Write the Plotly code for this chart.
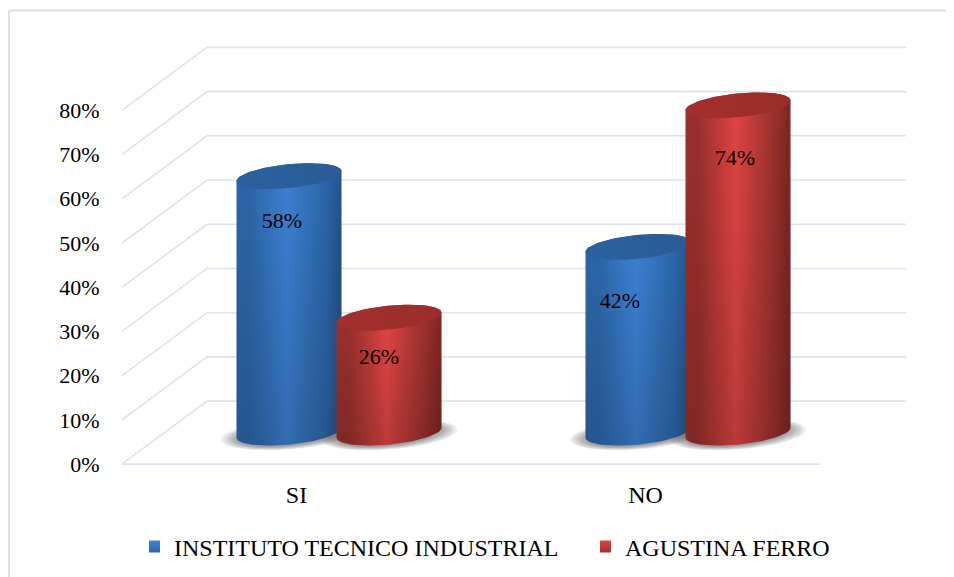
import numpy as np
import plotly.graph_objects as go

categories = ["SI", "NO"]
series_names = ["INSTITUTO TECNICO INDUSTRIAL", "AGUSTINA FERRO"]
instituto = [58, 42]
agustina = [26, 74]
y_ticks = [0, 10, 20, 30, 40, 50, 60, 70, 80]

# The page body adds an 8px margin, so the figure is 8px smaller and all px are shifted.
PAGE = 8
PX_Y = 354 / 80          # px per percent
PX_X = 349.0             # px per category
LEFT, BOTTOM = 122 - PAGE, 464 - PAGE
W, H = 954 - PAGE, 577 - PAGE
RIGHT = 906 - PAGE
Y_MAX = 95
Y_MIN = -(H - BOTTOM) / PX_Y     # plot area reaches the figure bottom, legends sit inside it
X_MIN = -0.5
X_MAX = X_MIN + (RIGHT - LEFT) / PX_X

DX, DY = 85 / PX_X, 63 / PX_Y       # wall depth
FRONT_END = X_MIN + (820 - PAGE - LEFT) / PX_X
A, B, K = 52.5 / PX_X, 12 / PX_Y, 5 / PX_Y
BAR_OFF = 50 / PX_X
FONT = "Liberation Serif"

BLUE = dict(edge_l="#2c66a8", peak="#3c80d2", edge_r="#21518a", top_l="#2a629f", top_r="#2a5c96", swatch=("#3f83d4", "#2c67ad"))
RED = dict(edge_l="#98302d", peak="#e04444", edge_r="#7d2422", top_l="#a3302e", top_r="#9a2d2a", swatch=("#dc4341", "#a63230"))

fig = go.Figure()


def add_poly(x, y, **kw):
    fig.add_trace(go.Scatter(x=x, y=y, mode="lines", fill="toself", line=dict(width=0),
                             showlegend=False, hoverinfo="skip", **kw))


# walls and floor
gx, gy = [], []
for v in y_ticks:
    gx += [X_MIN, X_MIN + DX, X_MAX, None]
    gy += [v, v + DY, v + DY, None]
gx += [X_MIN, FRONT_END]
gy += [0, 0]
fig.add_trace(go.Scatter(x=gx, y=gy, mode="lines", line=dict(color="#dde3ef", width=1.6),
                         showlegend=False, hoverinfo="skip"))

bars = []
for i in range(len(categories)):
    centre = i + DX / 2
    bars.append((centre - BAR_OFF, instituto[i], BLUE))
    bars.append((centre + BAR_OFF, agustina[i], RED))

# floor shadows
base = DY / 2
for cx, _, _ in bars:
    t = np.linspace(0, 2 * np.pi, 60)
    for s in np.linspace(1.0, 0.72, 8):
        add_poly(cx + 68 / PX_X * s * np.cos(t),
                 base - 2 / PX_Y + 15 / PX_Y * s * np.sin(t) + K * np.cos(t),
                 fillcolor="rgba(70,70,70,0.09)")

# cylinders
for cx, v, c in bars:
    top = base + v
    lower = np.linspace(np.pi, 2 * np.pi, 50)
    upper = np.linspace(0, np.pi, 50)
    bx = np.concatenate([cx + A * np.cos(lower), cx + A * np.cos(upper)])
    by = np.concatenate([base + B * np.sin(lower) + K * np.cos(lower),
                         top + B * np.sin(upper) + K * np.cos(upper)])
    add_poly(bx, by, fillgradient=dict(type="horizontal", start=cx - A, stop=cx + A,
             colorscale=[[0, c["edge_l"]], [0.12, c["edge_l"]], [0.48, c["peak"]], [0.85, c["edge_l"]], [1, c["edge_r"]]]))
    add_poly(bx, by, fillgradient=dict(type="vertical", start=base - B, stop=top,
             colorscale=[[0, "rgba(0,0,0,0.16)"], [1, "rgba(0,0,0,0)"]]))
    t = np.linspace(0, 2 * np.pi, 80)
    add_poly(cx + A * np.cos(t), top + B * np.sin(t) + K * np.cos(t),
             fillgradient=dict(type="horizontal", start=cx - A, stop=cx + A,
                               colorscale=[[0, c["top_l"]], [1, c["top_r"]]]))

# data labels (small hand nudges, in px, as in the source)
nudges = {0: (-7, -3.3), 1: (-10, -2.1), 2: (-18, -5.4), 3: (-3, -5.2)}
fig.add_trace(go.Scatter(
    x=[b[0] + nudges[j][0] / PX_X for j, b in enumerate(bars)],
    y=[b[1] + nudges[j][1] for j, b in enumerate(bars)],
    text=[f"{b[1]}%" for b in bars], mode="text", textposition="middle center",
    textfont=dict(family=FONT, size=22, color="#000000"), showlegend=False, hoverinfo="skip"))

# legend entries
for k, (name, c) in enumerate(zip(series_names, (BLUE, RED))):
    fig.add_trace(go.Scatter(x=[None], y=[None], name=name, mode="markers",
                             legend="legend" if k == 0 else "legend2", showlegend=True,
                             marker=dict(symbol="square", size=12, color=c["swatch"][0],
                                         gradient=dict(type="vertical", color=c["swatch"][1]))))

t_margin = BOTTOM - Y_MAX * PX_Y
plot_h = H - t_margin
plot_w = RIGHT - LEFT


def paper_x(px):
    return (px - PAGE - LEFT) / plot_w


def paper_y(px):
    return (H - (px - PAGE)) / plot_h


legend_common = dict(orientation="h", xanchor="left", yanchor="middle", itemwidth=30, indentation=-15,
                     font=dict(family=FONT, size=24), bgcolor="rgba(0,0,0,0)")
frame = dict(color="#d6e2f2", width=2)

fig.update_layout(
    width=W, height=H, autosize=False,
    margin=dict(l=LEFT, r=W - RIGHT, t=t_margin, b=0, pad=0),
    paper_bgcolor="#ffffff", plot_bgcolor="rgba(0,0,0,0)",
    font=dict(family=FONT, size=22, color="#000000"),
    xaxis=dict(range=[X_MIN, X_MAX], tickmode="array", tickvals=[0, 1], ticktext=categories,
               anchor="free", position=paper_y(464),
               showgrid=False, zeroline=False, showline=False, ticks="outside", ticklen=9,
               tickcolor="rgba(0,0,0,0)", tickfont=dict(family=FONT, size=24)),
    yaxis=dict(range=[Y_MIN, Y_MAX], tickmode="array", tickvals=y_ticks,
               ticktext=[f"{v}%" for v in y_ticks],
               showgrid=False, zeroline=False, showline=False, ticks="outside", ticklen=17,
               tickcolor="rgba(0,0,0,0)", tickfont=dict(family=FONT, size=22)),
    legend=dict(x=paper_x(149), y=paper_y(547), **legend_common),
    legend2=dict(x=paper_x(600), y=paper_y(547), **legend_common),
    shapes=[dict(type="line", xref="paper", yref="paper", x0=paper_x(9), x1=paper_x(9),
                 y0=paper_y(577), y1=paper_y(10), line=frame),
            dict(type="line", xref="paper", yref="paper", x0=paper_x(9), x1=paper_x(954),
                 y0=paper_y(10), y1=paper_y(10), line=frame)],
)

fig.write_html("out.html")
